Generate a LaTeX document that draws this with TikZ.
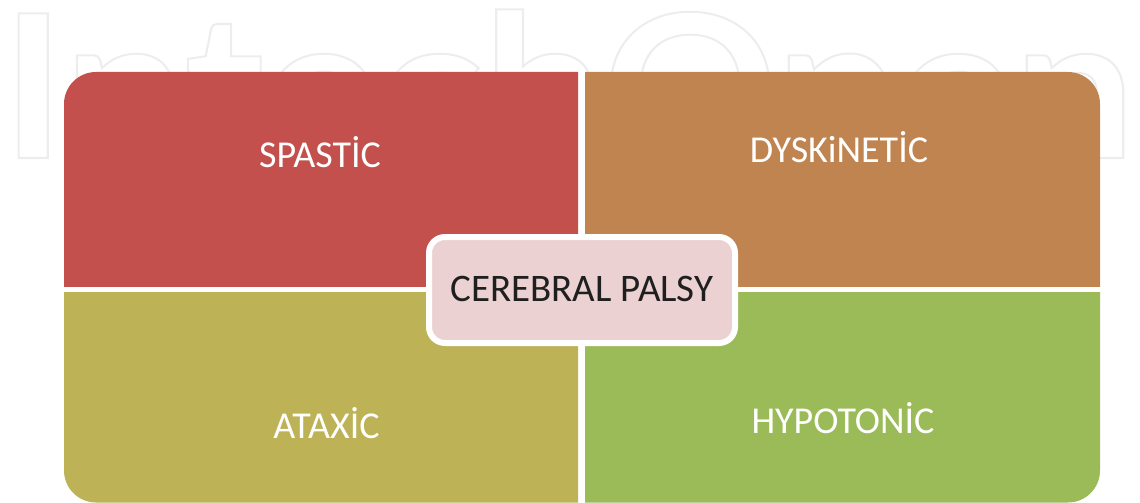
\documentclass[tikz,border=0pt]{standalone}
\usepackage{fontspec}
\setmainfont{Carlito}
\newfontfamily\wmfont{Lato}[BoldFont=* Bold]
\definecolor{cRed}{HTML}{C4504E}
\definecolor{cOrange}{HTML}{C08451}
\definecolor{cOlive}{HTML}{BEB256}
\definecolor{cGreen}{HTML}{9BBB59}
\definecolor{cPink}{HTML}{EBD1D1}
\definecolor{cDark}{HTML}{1F1F1F}
\definecolor{wm}{HTML}{EDEDED}
\tikzset{
  quadlabel/.style={anchor=base, text=white, font=\fontsize{38}{44}\selectfont, inner sep=0pt},
  centerbox/.style={fill=cPink, draw=white, line width=6pt, rounded corners=16pt,
     minimum width=306pt, minimum height=106pt, text=cDark,
     font=\fontsize{39}{46}\selectfont, inner sep=0pt},
}
\begin{document}
\begin{tikzpicture}[x=1pt,y=-1pt]
\useasboundingbox (0,0) rectangle (1140,503);
% watermark
\node[anchor=base west, text=wm, inner sep=0pt, font=\wmfont\bfseries\fontsize{200}{220}\selectfont, xscale=1.08] (wmark) at (1,158) {\special{pdf:literal direct 1 Tr 2 w}IntechOpen\special{pdf:literal direct 0 Tr}};
% white backing
\fill[white, rounded corners=32pt] (64,72) rectangle (1100,502.5);
% quadrants
\begin{scope}
  \clip (0,0) rectangle (578,286);
  \fill[cRed, rounded corners=32pt] (64,72) rectangle (1100,502.5);
\end{scope}
\begin{scope}
  \clip (585,0) rectangle (1140,286);
  \fill[cOrange, rounded corners=32pt] (64,72) rectangle (1100,502.5);
\end{scope}
\begin{scope}
  \clip (0,292) rectangle (578,503);
  \fill[cOlive, rounded corners=32pt] (64,72) rectangle (1100,502.5);
\end{scope}
\begin{scope}
  \clip (585,292) rectangle (1140,503);
  \fill[cGreen, rounded corners=32pt] (64,72) rectangle (1100,502.5);
\end{scope}
\node[quadlabel] (spastic) at (320,167) {SPASTİC};
\node[quadlabel] (dysk) at (839,162) {DYSKiNETİC};
\node[quadlabel] (ataxic) at (326.5,438.5) {ATAXİC};
\node[quadlabel] (hypo) at (843,433.5) {HYPOTONİC};
\node[centerbox] (cp) at (582,290) {\raisebox{2.5pt}{CEREBRAL PALSY}};
\end{tikzpicture}
\end{document}
